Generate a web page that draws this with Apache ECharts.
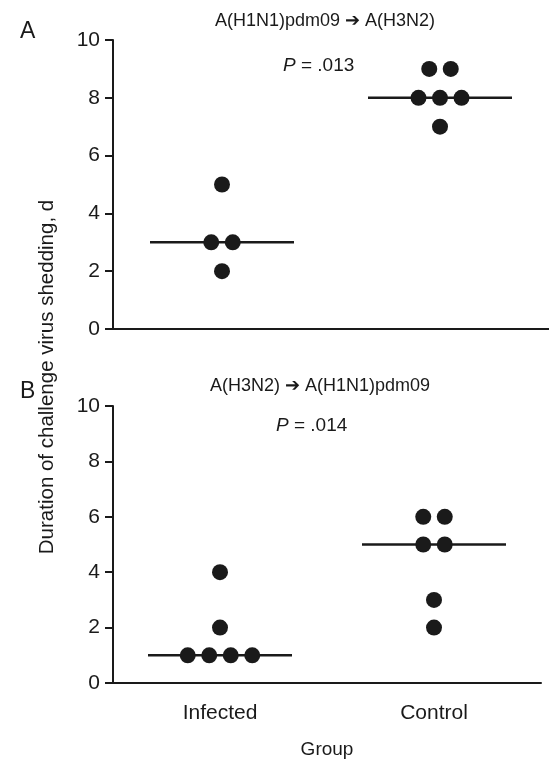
<!DOCTYPE html>
<html>
<head>
<meta charset="utf-8">
<script src="https://cdn.jsdelivr.net/npm/echarts@6/dist/echarts.min.js"></script>
<style>
  html, body { margin: 0; padding: 0; background: #fff; }
  #chart { width: 549px; height: 760px; }
</style>
</head>
<body>
<div id="chart"></div>
<script>
// groups and values (days of shedding)
var groups = ['Infected', 'Control'];
var infectedA = [5, 3, 3, 2];
var controlA = [9, 9, 8, 8, 8, 7];
var infectedB = [4, 2, 1, 1, 1, 1];
var controlB = [6, 6, 5, 5, 3, 2];
var yTicks = [0, 2, 4, 6, 8, 10];

var ink = '#1a1a1a';
var font = 'Liberation Sans, Arial, Helvetica, sans-serif';

function median(arr) {
    var s = arr.slice().sort(function (a, b) { return a - b; });
    var m = Math.floor(s.length / 2);
    return s.length % 2 ? s[m] : (s[m - 1] + s[m]) / 2;
}

// dots with equal value are spread side by side
function dots(cat, arr) {
    var seen = {};
    return arr.map(function (v) {
        var n = arr.filter(function (x) { return x === v; }).length;
        var k = seen[v] || 0;
        seen[v] = k + 1;
        return { value: [cat, v], symbolOffset: [(k - (n - 1) / 2) * 21.5, 0] };
    });
}

function medianLine(params, api) {
    var p = api.coord([api.value(0), api.value(1)]);
    return {
        type: 'line',
        shape: { x1: p[0] - 72, y1: p[1], x2: p[0] + 72, y2: p[1] },
        style: { stroke: ink, lineWidth: 2.5 }
    };
}

function xAx(idx, showLabel) {
    return {
        type: 'category', gridIndex: idx, data: groups, boundaryGap: true,
        axisLine: { lineStyle: { color: ink, width: 2 } },
        axisTick: { alignWithLabel: true, length: 8, lineStyle: { color: ink, width: 2 } },
        axisLabel: { show: showLabel, color: ink, fontSize: 21, fontFamily: font, margin: 20 },
        name: showLabel ? 'Group' : '', nameLocation: 'middle', nameGap: 57,
        nameTextStyle: { color: ink, fontSize: 19, fontFamily: font },
        splitLine: { show: false }
    };
}

function yAx(idx) {
    return {
        type: 'value', gridIndex: idx, min: 0, max: 10, interval: 2,
        axisLine: { show: true, lineStyle: { color: ink, width: 2 } },
        axisTick: { show: true, length: 8, lineStyle: { color: ink, width: 2 } },
        axisLabel: { color: ink, fontSize: 21, fontFamily: font, margin: 13,
            formatter: function (v) { return yTicks.indexOf(v) >= 0 ? v : ''; } },
        splitLine: { show: false }
    };
}

function scatter(idx, cat, arr) {
    return {
        type: 'scatter', xAxisIndex: idx, yAxisIndex: idx, symbol: 'circle', symbolSize: 16,
        itemStyle: { color: ink, opacity: 1 }, z: 3, silent: true, data: dots(cat, arr)
    };
}

function med(idx, cat, arr) {
    return {
        type: 'custom', xAxisIndex: idx, yAxisIndex: idx, renderItem: medianLine, z: 2,
        silent: true, data: [[cat, median(arr)]]
    };
}

var myChart = echarts.init(document.getElementById('chart'));
var option = {
    backgroundColor: '#fff',
    animation: false,
    title: [
        { text: 'A', left: 15, top: 15, textStyle: { fontSize: 23, fontWeight: 'normal', color: ink, fontFamily: font } },
        { text: 'B', left: 15, top: 375, textStyle: { fontSize: 23, fontWeight: 'normal', color: ink, fontFamily: font } },
        { text: 'A(H1N1)pdm09 \u2794 A(H3N2)', left: 210, top: 7, textStyle: { fontSize: 18, fontWeight: 'normal', color: ink, fontFamily: font } },
        { text: 'A(H3N2) \u2794 A(H1N1)pdm09', left: 205, top: 372, textStyle: { fontSize: 18, fontWeight: 'normal', color: ink, fontFamily: font } },
        { text: '{i|P} = .013', left: 278, top: 51,
          textStyle: { fontSize: 19, fontWeight: 'normal', color: ink, fontFamily: font,
            rich: { i: { fontStyle: 'italic', fontSize: 19, color: ink, fontFamily: font } } } },
        { text: '{i|P} = .014', left: 271, top: 411,
          textStyle: { fontSize: 19, fontWeight: 'normal', color: ink, fontFamily: font,
            rich: { i: { fontStyle: 'italic', fontSize: 19, color: ink, fontFamily: font } } } }
    ],
    graphic: [{
        type: 'text', x: 47, y: 377, rotation: Math.PI / 2,
        style: { text: 'Duration of challenge virus shedding, d', fill: ink, fontSize: 20.5,
            fontFamily: font, align: 'center', verticalAlign: 'middle' }
    }],
    grid: [
        { left: 113, top: 40, width: 436, height: 289 },
        { left: 113, top: 406, width: 428, height: 282 }
    ],
    xAxis: [xAx(0, false), xAx(1, true)],
    yAxis: [yAx(0), yAx(1)],
    series: [
        med(0, 0, infectedA), med(0, 1, controlA),
        scatter(0, 0, infectedA), scatter(0, 1, controlA),
        med(1, 0, infectedB), med(1, 1, controlB),
        scatter(1, 0, infectedB), scatter(1, 1, controlB)
    ]
};
myChart.setOption(option);
</script>
</body>
</html>
